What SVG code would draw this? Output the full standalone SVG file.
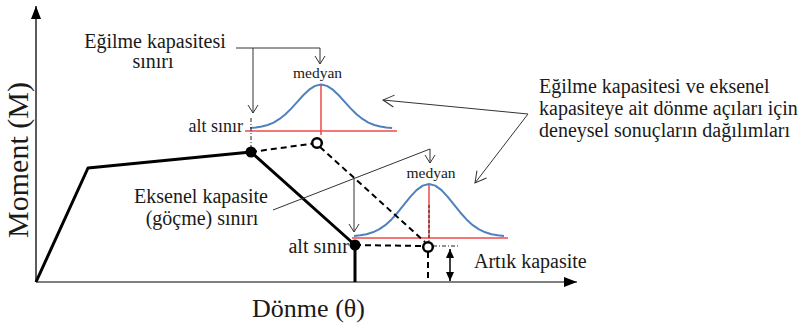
<svg xmlns="http://www.w3.org/2000/svg" width="809" height="328" viewBox="0 0 809 328" font-family="'Liberation Serif', 'DejaVu Serif', serif">
<style>
text{font-family:'Liberation Serif','DejaVu Serif',serif;fill:#1a1a1a}
.t20{font-size:20px}
.med{font-size:15.5px}
.axis{stroke:#333;stroke-width:1.6;fill:none}
.curve{stroke:#000;stroke-width:3;fill:none;stroke-linejoin:round}
.dash{stroke:#000;stroke-width:2;fill:none;stroke-dasharray:6,4}
.dd{stroke:#222;stroke-width:1;fill:none;stroke-dasharray:4,2,1,2}
.thin{stroke:#333;stroke-width:1;fill:none}
.bell{stroke:#4F81BD;stroke-width:2;fill:none;stroke-linejoin:round}
.red{stroke:#F04848;stroke-width:1.5;fill:none}
</style>
<defs>
<marker id="vs" markerUnits="userSpaceOnUse" markerWidth="12" markerHeight="12" viewBox="-10 -6 12 12" refX="0" refY="0" orient="auto" overflow="visible">
<path d="M-8,-5 L0,0 L-8,5" fill="none" stroke="#333" stroke-width="1"/>
</marker>
<marker id="vl" markerUnits="userSpaceOnUse" markerWidth="16" markerHeight="16" viewBox="-14 -8 16 16" refX="0" refY="0" orient="auto" overflow="visible">
<path d="M-11,-6 L0,0 L-11,6" fill="none" stroke="#333" stroke-width="1"/>
</marker>
<marker id="tri" markerUnits="userSpaceOnUse" markerWidth="16" markerHeight="12" viewBox="-14 -6 16 12" refX="0" refY="0" orient="auto" overflow="visible">
<path d="M-13,-5 L0,0 L-13,5 Z" fill="#000"/>
</marker>
<marker id="tris" markerUnits="userSpaceOnUse" markerWidth="12" markerHeight="10" viewBox="-10 -5 12 10" refX="0" refY="0" orient="auto" overflow="visible">
<path d="M-9,-4 L0,0 L-9,4 Z" fill="#000"/>
</marker>
</defs>

<g id="axes">
<line class="axis" x1="36" y1="282" x2="36" y2="6" marker-end="url(#tri)"/>
<line class="axis" x1="36" y1="282" x2="577" y2="282" stroke-width="2" style="stroke:#555" marker-end="url(#tri)"/>
<text id="ylabel" style="font-size:30px" transform="translate(28,160) rotate(-90)" text-anchor="middle">Moment (M)</text>
<text id="xlabel" style="font-size:26px" x="308.5" y="317" text-anchor="middle">Dönme (θ)</text>
</g>

<g id="distributions">
<line class="red" x1="245" y1="131" x2="397" y2="131"/>
<line class="red" x1="321" y1="84.5" x2="321" y2="135"/>
<path class="bell" d="M249.9,128.01 L255.82,127.5 L261.75,126.57 L267.67,125 L273.6,122.55 L279.52,118.98 L285.45,114.21 L291.37,108.36 L297.3,101.81 L303.22,95.29 L309.15,89.67 L315.07,85.86 L321,84.5 L326.93,85.86 L332.85,89.67 L338.78,95.29 L344.7,101.81 L350.63,108.36 L356.55,114.21 L362.48,118.98 L368.4,122.55 L374.33,125 L380.25,126.57 L386.18,127.5 L392.1,128.01"/>
<line class="red" x1="352" y1="238" x2="508" y2="238"/>
<line class="red" x1="429" y1="184" x2="429" y2="238"/>
<path class="bell" d="M354,235.92 L360.25,235.3 L366.5,234.2 L372.75,232.32 L379,229.4 L385.25,225.14 L391.5,219.45 L397.75,212.47 L404,204.66 L410.25,196.87 L416.5,190.17 L422.75,185.62 L429,184 L435.25,185.62 L441.5,190.17 L447.75,196.87 L454,204.66 L460.25,212.47 L466.5,219.45 L472.75,225.14 L479,229.4 L485.25,232.32 L491.5,234.2 L497.75,235.3 L504,235.92"/>
<text id="med1" class="med" x="317.5" y="78" text-anchor="middle">medyan</text>
<text id="med2" class="med" x="431" y="178" text-anchor="middle">medyan</text>
<text id="alt1" style="font-size:18px" x="243" y="132" text-anchor="end">alt sınır</text>
<text id="alt2" style="font-size:20px" x="349" y="253" text-anchor="end">alt sınır</text>
</g>

<g id="curve">
<polyline class="curve" points="36,282 88,168 251,152 355,245 355,282"/>
<polyline class="dash" points="251,152 317,143"/>
<line class="dash" x1="320" y1="147" x2="425" y2="242"/>
<line class="dash" x1="355" y1="245" x2="423" y2="246"/>
<line class="dash" x1="428" y1="252" x2="428" y2="282"/>
<line class="dd" x1="251" y1="118" x2="251" y2="148"/>
<line class="dd" x1="433" y1="246" x2="458" y2="246"/>
<line x1="429" y1="205" x2="429" y2="241" stroke="#222" stroke-width="1" stroke-dasharray="3,2"/>
<circle id="dot1" cx="251" cy="152" r="5.5" fill="#000"/>
<circle id="dot2" cx="355" cy="245" r="5.5" fill="#000"/>
<circle id="ring1" cx="317" cy="143" r="4.8" fill="#fff" stroke="#000" stroke-width="2.5"/>
<circle id="ring2" cx="428" cy="247" r="4.8" fill="#fff" stroke="#000" stroke-width="2.5"/>
</g>

<g id="connectors">
<polyline class="thin" points="236,48 320,48 320,64" marker-end="url(#vs)"/>
<line class="thin" x1="253" y1="48" x2="253" y2="113" marker-end="url(#vs)"/>
<polyline class="thin" points="273,210 430,149 430,163" marker-end="url(#vs)"/>
<line class="thin" x1="354" y1="178" x2="354" y2="232" marker-end="url(#vs)"/>
<line class="thin" x1="528" y1="114" x2="383" y2="100" marker-end="url(#vl)"/>
<line class="thin" x1="528" y1="114" x2="475" y2="183" marker-end="url(#vl)"/>
<line stroke="#000" stroke-width="1.5" x1="450" y1="264" x2="450" y2="249" marker-end="url(#tris)"/>
<line stroke="#000" stroke-width="1.5" x1="450" y1="264" x2="450" y2="281" marker-end="url(#tris)"/>
</g>

<g id="label-egilme">
<text class="t20" x="155" y="48" text-anchor="middle">Eğilme kapasitesi</text>
<text class="t20" x="153" y="68" text-anchor="middle">sınırı</text>
</g>
<g id="label-eksenel">
<text class="t20" x="201" y="203" text-anchor="middle">Eksenel kapasite</text>
<text class="t20" x="202" y="225" text-anchor="middle">(göçme) sınırı</text>
</g>
<g id="label-dagilim">
<text class="t20" x="539" y="93">Eğilme kapasitesi ve eksenel</text>
<text class="t20" x="539" y="115">kapasiteye ait dönme açıları için</text>
<text class="t20" x="539" y="137">deneysel sonuçların dağılımları</text>
</g>
<g id="label-artik">
<text class="t20" x="474" y="268">Artık kapasite</text>
</g>
</svg>
